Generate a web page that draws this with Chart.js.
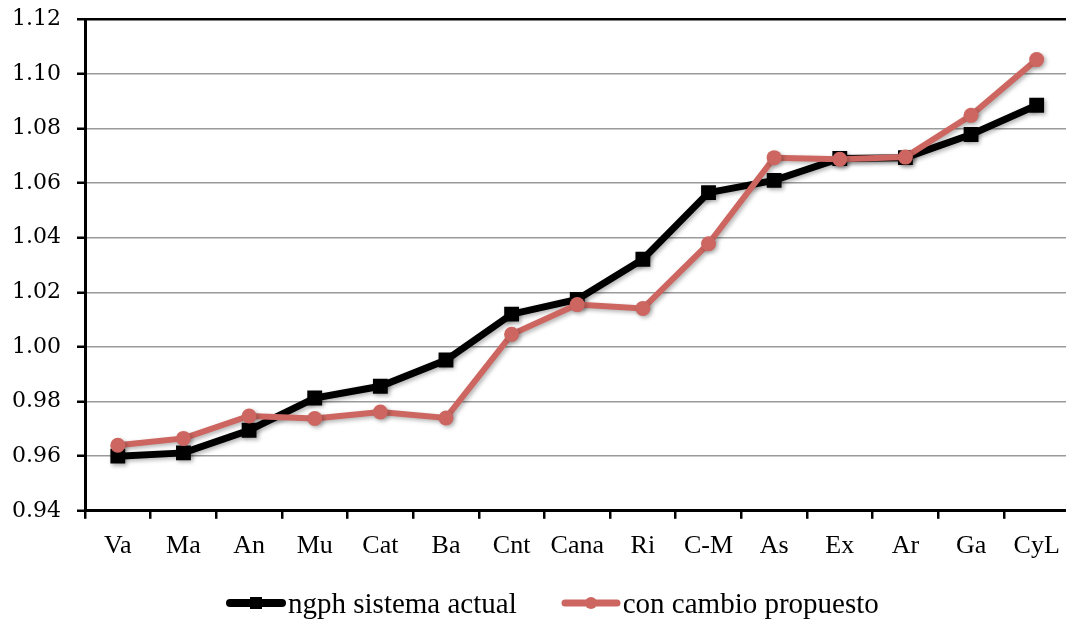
<!DOCTYPE html>
<html>
<head>
<meta charset="utf-8">
<script src="https://cdn.jsdelivr.net/npm/chart.js@4"></script>
<style>
  html, body { margin: 0; padding: 0; background: #fff; overflow: hidden; }
  #wrap { width: 1080px; height: 621px; position: relative; }
  #leyenda {
    position: absolute; left: 225px; top: 585px; height: 36px;
    display: flex; align-items: center;
    font-family: 'Liberation Serif', serif; font-size: 29px; color: #000;
  }
  .item { display: flex; align-items: center; }
  .item + .item { margin-left: 43px; }
  .item canvas { margin-right: 1px; }
</style>
</head>
<body>
<div id="wrap">
  <canvas id="grafico"></canvas>
  <div id="leyenda"></div>
</div>
<script>
const regiones = ['Va', 'Ma', 'An', 'Mu', 'Cat', 'Ba', 'Cnt', 'Cana', 'Ri', 'C-M', 'As', 'Ex', 'Ar', 'Ga', 'CyL'];
const sistemaActual = [0.9600, 0.9612, 0.9695, 0.9813, 0.9856, 0.9952, 1.0120, 1.0174, 1.0321, 1.0565, 1.0610, 1.0690, 1.0693, 1.0778, 1.0885];
const cambioPropuesto = [0.9640, 0.9665, 0.9747, 0.9738, 0.9762, 0.9740, 1.0046, 1.0155, 1.0141, 1.0378, 1.0693, 1.0687, 1.0695, 1.0848, 1.1052];
const yTicks = [0.94, 0.96, 0.98, 1.00, 1.02, 1.04, 1.06, 1.08, 1.10, 1.12];

const NEGRO = '#000000';
const ROJO = '#cd6660';

// line + marker sample for the legend
const muestra = (color, ancho, cuadrado) => {
    const c = document.createElement('canvas');
    c.width = 62;
    c.height = 18;
    const ctx = c.getContext('2d');
    ctx.strokeStyle = color;
    ctx.fillStyle = color;
    ctx.lineWidth = ancho;
    ctx.lineCap = 'round';
    ctx.beginPath();
    ctx.moveTo(5, 9);
    ctx.lineTo(57, 9);
    ctx.stroke();
    if (cuadrado) {
        ctx.fillRect(25, 3, 12, 12);
    } else {
        ctx.beginPath();
        ctx.arc(31, 9, 6, 0, Math.PI * 2);
        ctx.fill();
    }
    return c;
};

const addLegendItem = (texto, color, ancho, cuadrado) => {
    const item = document.createElement('div');
    item.className = 'item';
    item.appendChild(muestra(color, ancho, cuadrado));
    const span = document.createElement('span');
    span.textContent = texto;
    item.appendChild(span);
    document.getElementById('leyenda').appendChild(item);
};

const sombra = {
    id: 'sombra',
    beforeDatasetsDraw(chart) {
        const ctx = chart.ctx;
        ctx.save();
        ctx.shadowColor = 'rgba(0,0,0,0.3)';
        ctx.shadowBlur = 4;
        ctx.shadowOffsetX = 2;
        ctx.shadowOffsetY = 2;
    },
    afterDatasetsDraw(chart) {
        chart.ctx.restore();
    }
};

new Chart(document.getElementById('grafico'), {
    type: 'line',
    data: {
        labels: regiones,
        datasets: [{
            label: 'con cambio propuesto',
            data: cambioPropuesto,
            borderColor: ROJO,
            backgroundColor: ROJO,
            borderWidth: 6,
            pointStyle: 'circle',
            pointRadius: 7.5,
            pointBorderWidth: 0,
            tension: 0,
            order: 0
        }, {
            label: 'ngph sistema actual',
            data: sistemaActual,
            borderColor: NEGRO,
            backgroundColor: NEGRO,
            borderWidth: 7,
            pointStyle: 'rect',
            pointRadius: 10.5,
            pointBorderWidth: 0,
            tension: 0,
            order: 1
        }]
    },
    options: {
        responsive: true,
        maintainAspectRatio: false,
        animation: false,
        layout: { padding: { left: 12, right: 8, top: 5, bottom: 47 } },
        plugins: {
            tooltip: { enabled: false },
            legend: { display: false }
        },
        scales: {
            x: {
                offset: true,
                grid: {
                    offset: true,
                    drawOnChartArea: false,
                    drawTicks: true,
                    tickLength: 8,
                    color: NEGRO,
                    lineWidth: 2.5
                },
                border: { color: NEGRO, width: 3 },
                ticks: {
                    autoSkip: false,
                    maxRotation: 0,
                    padding: 12,
                    color: '#000',
                    font: { family: 'Liberation Serif', size: 26 }
                }
            },
            y: {
                min: 0.94,
                max: 1.12,
                afterFit: (scale) => { scale.width = 73; },
                afterBuildTicks: (scale) => { scale.ticks = yTicks.map(v => ({ value: v })); },
                grid: {
                    color: (c) => (c.tick && c.tick.value > 1.119 ? NEGRO : '#9a9a9a'),
                    lineWidth: (c) => (c.tick && c.tick.value > 1.119 ? 2.5 : 1.5),
                    tickColor: NEGRO,
                    tickWidth: 2.5,
                    tickLength: 8
                },
                border: { color: NEGRO, width: 3 },
                ticks: {
                    padding: 6,
                    crossAlign: 'far',
                    color: '#000',
                    font: { family: 'DejaVu Serif', size: 22 },
                    callback: (v) => Number(v).toFixed(2)
                }
            }
        }
    },
    plugins: [sombra]
});

addLegendItem('ngph sistema actual', NEGRO, 8, true);
addLegendItem('con cambio propuesto', ROJO, 7, false);
</script>
</body>
</html>
